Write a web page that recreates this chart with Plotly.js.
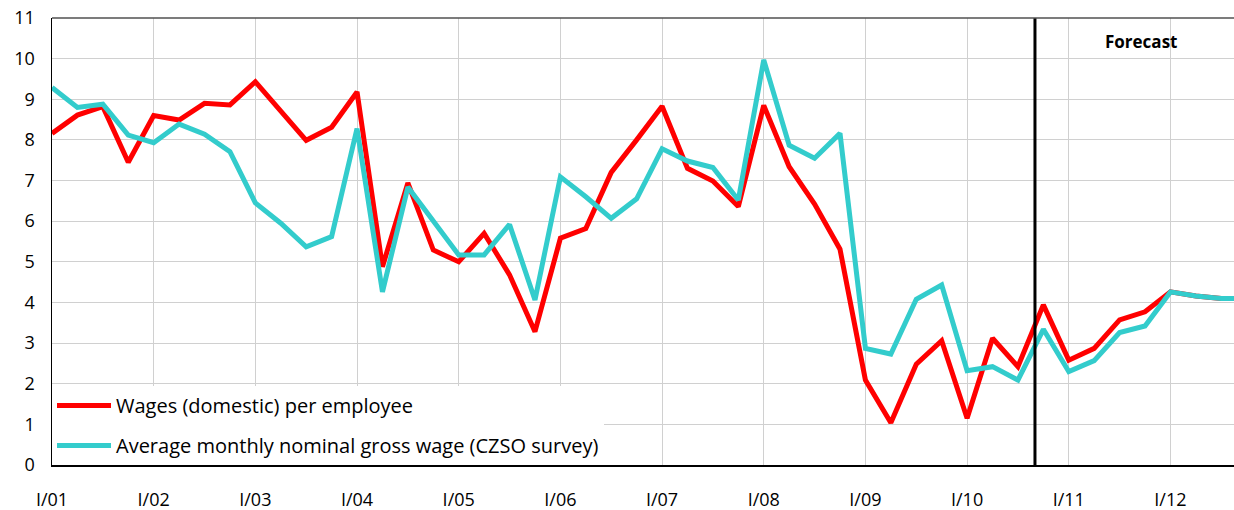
<!DOCTYPE html>
<html>
<head>
<meta charset="utf-8">
<script src="https://cdn.plot.ly/plotly-3.0.1.min.js"></script>
<style>html,body{margin:0;padding:0;background:#fff;}#chart{width:1234px;height:510px;}</style>
</head>
<body>
<div id="chart"></div>
<script>
// Quarter labels
var years = ['01','02','03','04','05','06','07','08','09','10','11','12'];
var quarterNames = ['I','II','III','IV'];
var quarters = [];
years.forEach(function(y){ quarterNames.forEach(function(q){ quarters.push(q + '/' + y); }); });
var yearTicks = years.map(function(y){ return 'I/' + y; });

// Series values (y/y growth, %)
var wagesDomestic = [8.16, 8.61, 8.82, 7.45, 8.60, 8.49, 8.90, 8.86, 9.43, 8.72, 7.99, 8.31,
                     9.18, 4.88, 6.94, 5.29, 5.00, 5.70, 4.68, 3.28, 5.58, 5.82, 7.20, 8.00,
                     8.83, 7.30, 6.99, 6.36, 8.85, 7.34, 6.42, 5.31, 2.09, 1.04, 2.48, 3.06,
                     1.15, 3.12, 2.42, 3.94, 2.58, 2.87, 3.57, 3.77, 4.26, 4.16, 4.10, 4.10];
var czsoWage = [9.29, 8.80, 8.88, 8.12, 7.93, 8.39, 8.14, 7.71, 6.45, 5.95, 5.37, 5.62,
                8.28, 4.26, 6.84, 5.98, 5.17, 5.17, 5.92, 4.06, 7.09, 6.60, 6.07, 6.55,
                7.78, 7.48, 7.32, 6.52, 9.97, 7.87, 7.55, 8.16, 2.87, 2.73, 4.08, 4.43,
                2.32, 2.42, 2.09, 3.34, 2.30, 2.57, 3.26, 3.42, 4.26, 4.16, 4.10, 4.10];
var seriesNames = ['Wages (domestic) per employee', 'Average monthly nominal gross wage (CZSO survey)'];
var forecastLabel = 'Forecast';

var traces = [
  {x: quarters, y: wagesDomestic, name: seriesNames[0], type: 'scatter', mode: 'lines',
   line: {color: '#FF0000', width: 5}, legendgroup: 'a'},
  {x: quarters, y: czsoWage, name: seriesNames[1], type: 'scatter', mode: 'lines',
   line: {color: '#33CCCC', width: 5}, legendgroup: 'b'}
];

var layout = {
  width: 1234, height: 510,
  margin: {l: 52, r: 0, t: 18, b: 45},
  paper_bgcolor: '#fff', plot_bgcolor: '#fff',
  font: {family: 'Open Sans, sans-serif', size: 18, color: '#000'},
  showlegend: true,
  xaxis: {
    type: 'category', range: [0, 46.5],
    tickvals: yearTicks, ticktext: yearTicks,
    showgrid: true, gridcolor: '#d0d0d0', gridwidth: 1,
    showline: true, linecolor: '#000', linewidth: 1.5,
    ticks: '', ticklabelstandoff: 18, zeroline: false, fixedrange: true
  },
  yaxis: {
    range: [0, 11], dtick: 1, tick0: 0,
    showgrid: true, gridcolor: '#d0d0d0', gridwidth: 1,
    showline: true, linecolor: '#000', linewidth: 1.5,
    ticks: '', ticklabelstandoff: 12, zeroline: false, fixedrange: true
  },
  legend: {
    x: 0, y: 0, xanchor: 'left', yanchor: 'bottom',
    bgcolor: '#fff', borderwidth: 0,
    font: {size: 20}, traceorder: 'grouped', tracegroupgap: 11, itemwidth: 54
  },
  shapes: [
    {type: 'line', xref: 'x', yref: 'y', x0: 38.67, x1: 38.67, y0: 0, y1: 11,
     line: {color: '#000', width: 3}},
    {type: 'line', xref: 'paper', yref: 'paper', x0: 0, x1: 1, y0: 1, y1: 1,
     line: {color: '#505050', width: 1.5}}
  ],
  annotations: [
    {text: '<b>' + forecastLabel + '</b>', x: 42.84, y: 10.41, xref: 'x', yref: 'y',
     showarrow: false, font: {size: 17, color: '#000'}}
  ]
};

Plotly.newPlot('chart', traces, layout, {displayModeBar: false, staticPlot: true});
</script>
</body>
</html>
